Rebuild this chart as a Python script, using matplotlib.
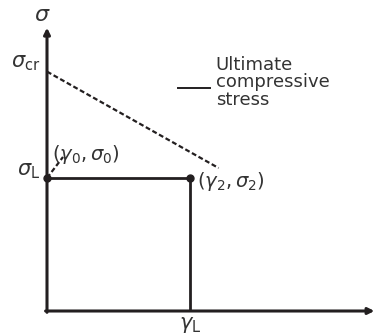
import matplotlib.pyplot as plt

# strain / stress values of the idealised load path
gamma_L = 1.0
sigma_L = 1.0
sigma_cr = 1.8
# ultimate compressive stress line end
ult_end = (1.2, 1.075)
# initial point (gamma0, sigma0) direction
p0_end = (0.112, 1.158)
x_axis_end = 2.29
y_axis_end = 2.13

ink = '#231f20'
txt = '#333333'

plt.rcParams['mathtext.fontset'] = 'dejavusans'

fig = plt.figure(figsize=(3.82, 3.36), dpi=100)
ax = fig.add_axes([0, 0, 1, 1])
ax.set_xlim(-47 / 143, 335 / 143)
ax.set_ylim(-25 / 133, 311 / 133)
ax.axis('off')

# axes with arrows
ax.annotate('', xy=(x_axis_end, 0), xytext=(-0.01, 0),
            arrowprops=dict(arrowstyle='-|>', lw=2.2, color=ink, mutation_scale=9,
                            shrinkA=0, shrinkB=0))
ax.annotate('', xy=(0, y_axis_end), xytext=(0, -0.01),
            arrowprops=dict(arrowstyle='-|>', lw=2.2, color=ink, mutation_scale=9,
                            shrinkA=0, shrinkB=0))

# rectangle path
ax.plot([0, gamma_L, gamma_L], [sigma_L, sigma_L, 0], color=ink, lw=2.0,
        solid_capstyle='butt')
ax.plot([0, gamma_L], [sigma_L, sigma_L], 'o', color=ink, ms=5)

# ultimate compressive stress line
ax.plot([0, ult_end[0]], [sigma_cr, ult_end[1]], color=ink, lw=1.6,
        linestyle=(0, (2.2, 1.2)))
ax.plot([0, p0_end[0]], [sigma_L, p0_end[1]], color=ink, lw=1.6,
        linestyle=(0, (2.2, 1.2)))

# legend-like label
ax.plot([0.916, 1.14], [1.68, 1.68], color=ink, lw=1.4)
ax.text(1.18, 1.72, 'Ultimate\ncompressive\nstress', color=txt, fontsize=13,
        ha='left', va='center', linespacing=0.95)

# labels
ax.text(-0.035, 2.226, r'$\sigma$', color=txt, fontsize=16, ha='center', va='center')
ax.text(-0.045, 1.865, r'$\sigma_{\rm cr}$', color=txt, fontsize=15, ha='right', va='center')
ax.text(-0.045, 1.05, r'$\sigma_{\rm L}$', color=txt, fontsize=15, ha='right', va='center')
ax.text(0.035, 1.175, r'$(\gamma_{\rm 0},\sigma_{\rm 0})$', color=txt, fontsize=14,
        ha='left', va='center')
ax.text(1.05, 0.97, r'$(\gamma_{\rm 2},\sigma_{\rm 2})$', color=txt, fontsize=14,
        ha='left', va='center')
ax.text(gamma_L, -0.105, r'$\gamma_{\rm L}$', color=txt, fontsize=15, ha='center',
        va='center')

fig.savefig('out.png', dpi=100)
